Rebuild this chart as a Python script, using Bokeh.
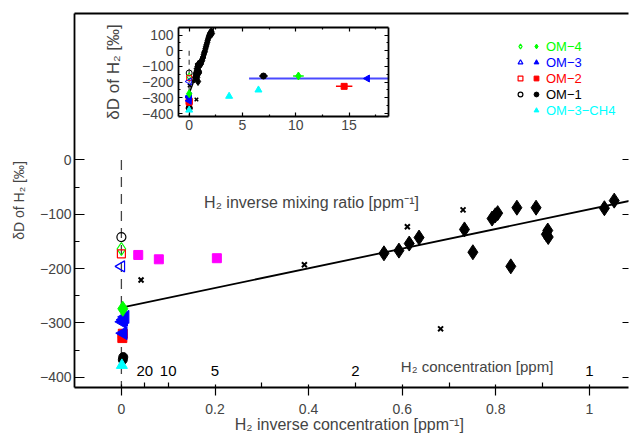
import math
from bokeh.plotting import figure
from bokeh.models import (Range1d, FixedTicker, LinearAxis, Label, Legend, LegendItem,
                          GridBox, CustomJSTickFormatter)
from bokeh.embed import file_html
from bokeh.resources import INLINE
from bokeh.core.properties import value

FONT = "Liberation Sans"

# ---------------- data ----------------
# open symbols, plotted at zero inverse concentration
om4_open_x, om4_open_y = [0.0], [-164]
om3_open_x, om3_open_y = [0.0], [-196]
om2_open_x, om2_open_y = [0.0], [-173]
om1_open_x, om1_open_y = [0.0], [-142]

# filled symbols with horizontal error (ppm^-1)
om4_x, om4_y, om4_xerr = [0.003, 10.25], [-274, -161], [0.0, 0.5]
om3_x, om3_y, om3_xerr = [0.008, 0.005, 0.002, 0.004, 16.72], [-289, -294, -298, -319, -177], [0, 0, 0, 0, 11.1]
om2_x, om2_y, om2_xerr = [0.003, 0.002, 14.54], [-320, -328, -227], [0, 0, 0.77]
om1_x, om1_y, om1_xerr = [0.004, 0.003, 6.97], [-363, -368, -161], [0, 0, 0.4]
ch4_x, ch4_y = [0.001, 3.75, 6.5], [-378, -290, -250]

# magenta squares (main panel)
mag_x, mag_y = [0.036, 0.080, 0.204], [-175, -183, -181]
# crosses
cross_x = [0.042, 0.391, 0.611, 0.682, 0.730]
cross_y = [-221, -193, -123, -311, -92]
# black diamonds (main + inset cluster)
dia_x = [0.561, 0.593, 0.615, 0.636, 0.733, 0.751, 0.792, 0.799, 0.804, 0.832, 0.845,
         0.886, 0.908, 0.911, 0.912, 1.032, 1.053,
         1.10, 1.16, 1.21, 1.27, 1.31, 1.37, 1.42, 1.47, 1.53, 1.58, 1.63, 1.69, 1.74,
         1.80, 1.86, 1.90, 1.96, 2.02, 2.08, 2.14]
dia_y = [-172, -167, -154, -143, -128, -170, -108, -102, -98, -196, -88,
         -88, -137, -130, -142, -89, -75,
         -84, -70, -62, -48, -40, -25, -12, -4, 12, 26, 38, 52, 66,
         80, 92, 100, 112, 104, 122, 110]

# regression line
fit_intercept, fit_slope = -272.0, 181.0
fit_x_main = [0.0, 1.09]
fit_x_inset = [0.0, 2.3]

# dashed zero line
zero_x, zero_y = [0.0, 0.0], [0.0, -430.0]

# secondary scale: H2 concentration (ppm)
conc_ppm = [20, 10, 5, 2, 1]

x_ticks = [0, 0.2, 0.4, 0.6, 0.8, 1.0]
x_minor = [0.05, 0.1, 0.3, 0.5, 0.7, 0.9]
y_ticks = [-400, -300, -200, -100, 0]
y_minor = [-350, -250, -150, -50]
inset_x_ticks = [0, 5, 10, 15]
inset_x_minor = [2.5, 7.5, 12.5, 17.5]
inset_y_ticks = [-400, -300, -200, -100, 0, 100]
inset_y_minor = [-350, -250, -150, -50, 50]

GREEN, BLUE, RED, BLACK, CYAN, MAGENTA = "#00ff00", "#0000ff", "#ff0000", "#000000", "#00ffff", "#ff00ff"

fmt = lambda: CustomJSTickFormatter(code="return String(tick).replace('-', '\u2212');")


def style_axis(ax, size):
    ax.axis_line_width = 1.8
    ax.major_tick_line_width = 1.2
    ax.minor_tick_line_width = 1.2
    ax.major_label_text_font = FONT
    ax.major_label_text_font_size = size
    ax.axis_label_text_font = FONT
    ax.axis_label_text_font_style = "normal"


def blank_axis(ticks, minor, tin, mtin):
    ax = LinearAxis(ticker=FixedTicker(ticks=ticks, minor_ticks=minor))
    ax.major_tick_in = tin
    ax.major_tick_out = 0
    ax.minor_tick_in = mtin
    ax.minor_tick_out = 0
    ax.major_label_text_font_size = "0px"
    ax.major_label_text_color = None
    ax.major_label_standoff = 0
    ax.axis_line_width = 1.8
    ax.major_tick_line_width = 1.2
    ax.minor_tick_line_width = 1.2
    return ax


# ---------------- main figure ----------------
p = figure(width=630, height=437, output_backend="svg", toolbar_location=None,
           x_range=Range1d(-0.1002, 1.0835), y_range=Range1d(-419, 269.5),
           x_axis_type=None, y_axis_type=None,
           min_border_left=74, min_border_right=0, min_border_top=13, min_border_bottom=50)
p.outline_line_color = None

xax = LinearAxis(ticker=FixedTicker(ticks=x_ticks, minor_ticks=x_minor), formatter=fmt(),
                 axis_label="H\u2082 inverse concentration  [ppm\u207b\u00b9]")
style_axis(xax, "14px")
xax.major_tick_in = 3
xax.major_tick_out = 8
xax.minor_tick_in = 5
xax.minor_tick_out = 0
xax.major_label_standoff = 8
xax.axis_label_standoff = -1
xax.axis_label_text_font_size = "16px"
p.add_layout(xax, "below")

yax = LinearAxis(ticker=FixedTicker(ticks=y_ticks, minor_ticks=y_minor), formatter=fmt(),
                 axis_label="\u03b4D of H\u2082 [\u2030]")
style_axis(yax, "14px")
yax.major_tick_in = 10
yax.major_tick_out = 0
yax.minor_tick_in = 5
yax.minor_tick_out = 0
yax.major_label_standoff = 3
yax.axis_label_standoff = 10
yax.axis_label_text_font_size = "14px"
p.add_layout(yax, "left")

rax = blank_axis(y_ticks, [], 6, 0)
rax.axis_line_color = None
p.add_layout(rax, "right")
tax = blank_axis([], [], 0, 0)
p.add_layout(tax, "above")

p.line(zero_x, zero_y, line_color="#444444", line_width=1.3, line_dash="10 7")
p.line(fit_x_main, [fit_intercept + fit_slope * x for x in fit_x_main], line_color=BLACK, line_width=1.8)
p.scatter(mag_x, mag_y, marker="square", size=9, fill_color=MAGENTA, line_color=MAGENTA)
p.scatter(cross_x, cross_y, marker="x", size=7, line_color=BLACK, line_width=2)
p.scatter(dia_x, dia_y, marker="diamond", size=15, fill_color=BLACK, line_color=BLACK)

o1 = p.scatter(om1_open_x, om1_open_y, marker="circle", size=9, fill_color=None, line_color=BLACK, line_width=1.2)
o4 = p.scatter(om4_open_x, om4_open_y, marker="diamond", size=13, fill_color=None, line_color=GREEN, line_width=1.2)
o2 = p.scatter(om2_open_x, om2_open_y, marker="square", size=8, fill_color=None, line_color=RED, line_width=1.2)
o3 = p.scatter(om3_open_x, om3_open_y, marker="triangle", angle=math.pi / 2, size=11, fill_color=None,
               line_color=BLUE, line_width=1.2)

f1 = p.scatter(om1_x, om1_y, marker="circle", size=9, fill_color=BLACK, line_color=BLACK)
fc = p.scatter(ch4_x, ch4_y, marker="triangle", size=11, fill_color=CYAN, line_color=CYAN)
f2 = p.scatter(om2_x, om2_y, marker="square", size=9, fill_color=RED, line_color=RED)
f3 = p.scatter(om3_x, om3_y, marker="triangle", angle=math.pi / 2, size=13, fill_color=BLUE, line_color=BLUE)
f4 = p.scatter(om4_x, om4_y, marker="diamond", size=15, fill_color=GREEN, line_color=GREEN)

# secondary (H2 concentration) labels
p.text(x=[1.0 / c for c in conc_ppm], y=-389, text=[str(c) for c in conc_ppm],
       text_align="center", text_baseline="middle", text_font=value(FONT), text_font_size="15px",
       text_color=BLACK)
p.add_layout(Label(x=0.76, y=-381, text="H\u2082 concentration [ppm]", text_align="center",
                   text_baseline="middle", text_font=FONT, text_font_size="15px"))
# x label of the inset
p.add_layout(Label(x=0.411, y=-79, text="H\u2082 inverse mixing ratio  [ppm\u207b\u00b9]", text_align="center",
                   text_baseline="middle", text_font=FONT, text_font_size="16px"))

# legends: column of open symbols (no text) + one row legend per series with coloured text
leg_common = dict(glyph_width=12, glyph_height=16, label_height=16, label_width=0,
                  label_standoff=4, padding=0, margin=0, border_line_color=None,
                  background_fill_alpha=0, label_text_font=FONT)
open_leg = Legend(items=[LegendItem(label="", renderers=[r]) for r in (o4, o3, o2, o1)],
                  location=(440, 285), orientation="vertical", spacing=0, **leg_common)
open_leg.label_text_color = None
open_leg.label_text_font_size = "0px"
p.add_layout(open_leg)

legend_rows = [
    (f4, "OM\u22124", GREEN, 333),
    (f3, "OM\u22123", BLUE, 317),
    (f2, "OM\u22122", RED, 301),
    (f1, "OM\u22121", BLACK, 285),
    (fc, "OM\u22123\u2212CH4", CYAN, 269),
]
for r, lab, col, vy in legend_rows:
    lg = Legend(items=[LegendItem(label=lab, renderers=[r])], location=(456, vy),
                orientation="horizontal", spacing=0, **leg_common)
    lg.label_text_color = col
    lg.label_text_font_size = "13px"
    p.add_layout(lg)

# ---------------- inset figure ----------------
ins = figure(width=292, height=143, output_backend="svg", toolbar_location=None,
             x_range=Range1d(-1.0, 18.7), y_range=Range1d(-419, 148),
             x_axis_type=None, y_axis_type=None,
             min_border_left=80, min_border_right=2, min_border_top=4, min_border_bottom=22)
ins.outline_line_color = None
ins.border_fill_color = None
ins.background_fill_color = "white"

ixax = LinearAxis(ticker=FixedTicker(ticks=inset_x_ticks, minor_ticks=inset_x_minor), formatter=fmt())
style_axis(ixax, "14px")
ixax.major_tick_in = 4
ixax.major_tick_out = 0
ixax.minor_tick_in = 2
ixax.minor_tick_out = 0
ixax.major_label_standoff = 3
ins.add_layout(ixax, "below")

iyax = LinearAxis(ticker=FixedTicker(ticks=inset_y_ticks, minor_ticks=inset_y_minor), formatter=fmt(),
                  axis_label="\u03b4D of H\u2082 [\u2030]")
style_axis(iyax, "14px")
iyax.major_tick_in = 4
iyax.major_tick_out = 0
iyax.minor_tick_in = 2
iyax.minor_tick_out = 0
iyax.major_label_standoff = 5
iyax.axis_label_standoff = 16
iyax.axis_label_text_font_size = "17px"
ins.add_layout(iyax, "left")

ins.add_layout(blank_axis(inset_x_ticks, inset_x_minor, 4, 2), "above")
ins.add_layout(blank_axis(inset_y_ticks, inset_y_minor, 4, 2), "right")

ins.line(zero_x, zero_y, line_color="#444444", line_width=1.2, line_dash="5 4")
ins.line(fit_x_inset, [fit_intercept + fit_slope * x for x in fit_x_inset], line_color=BLACK, line_width=1.5)


def err_bars(fig, xs, ys, errs, color, width):
    idx = [i for i, e in enumerate(errs) if e > 0]
    fig.segment(x0=[xs[i] - errs[i] for i in idx], x1=[xs[i] + errs[i] for i in idx],
                y0=[ys[i] for i in idx], y1=[ys[i] for i in idx], line_color=color, line_width=width)


err_bars(ins, om3_x, om3_y, om3_xerr, "#4a4aff", 2)
err_bars(ins, om1_x, om1_y, om1_xerr, BLACK, 1.5)
err_bars(ins, om4_x, om4_y, om4_xerr, GREEN, 1.5)
err_bars(ins, om2_x, om2_y, om2_xerr, RED, 1.5)

ins.scatter(cross_x, cross_y, marker="x", size=5, line_color=BLACK, line_width=1.5)
ins.scatter(dia_x, dia_y, marker="diamond", size=8, fill_color=BLACK, line_color=BLACK)
ins.scatter(om1_open_x, om1_open_y, marker="circle", size=6, fill_color=None, line_color=BLACK, line_width=1)
ins.scatter(om4_open_x, om4_open_y, marker="diamond", size=7, fill_color=None, line_color=GREEN, line_width=1.2)
ins.scatter(om2_open_x, om2_open_y, marker="square", size=5, fill_color=None, line_color=RED, line_width=1)
ins.scatter(om3_open_x, om3_open_y, marker="triangle", angle=math.pi / 2, size=7, fill_color=None,
            line_color=BLUE, line_width=1)
ins.scatter(om1_x, om1_y, marker="circle", size=6, fill_color=BLACK, line_color=BLACK)
ins.scatter(ch4_x, ch4_y, marker="triangle", size=7, fill_color=CYAN, line_color=CYAN)
ins.scatter(om2_x, om2_y, marker="square", size=6, fill_color=RED, line_color=RED)
ins.scatter(om3_x, om3_y, marker="triangle", angle=math.pi / 2, size=7, fill_color=BLUE, line_color=BLUE)
ins.scatter(om4_x, om4_y, marker="diamond", size=8, fill_color=GREEN, line_color=GREEN)

layout = GridBox(children=[(p, 0, 0, 2, 2), (ins, 1, 1)], rows=["23px", "auto"], cols=["98px", "auto"])

open("out.html", "w").write(file_html(layout, INLINE))
